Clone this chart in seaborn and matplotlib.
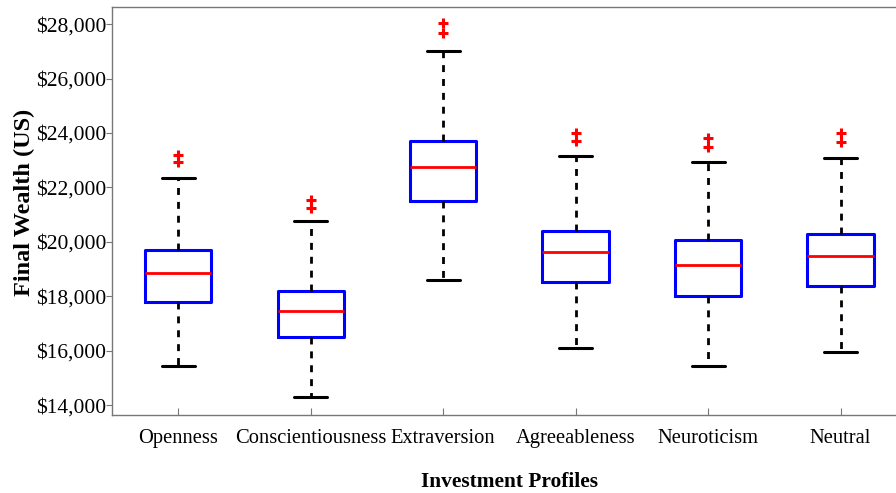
import pandas as pd
import matplotlib.pyplot as plt
import matplotlib.ticker as mticker
import seaborn as sns

# Box statistics (US$)
profiles = ['Openness', 'Conscientiousness', 'Extraversion',
            'Agreeableness', 'Neuroticism', 'Neutral']
lower_whisker = [15430, 14290, 18590, 16090, 15430, 15950]
q1 = [17790, 16500, 21490, 18520, 18000, 18370]
median = [18850, 17450, 22740, 19620, 19140, 19470]
q3 = [19690, 18190, 23700, 20390, 20060, 20280]
upper_whisker = [22340, 20760, 27010, 23150, 22930, 23080]
outliers = [[22940, 23190], [21240, 21530], [27670, 28040],
            [23700, 23990], [23480, 23810], [23660, 23990]]

# one row per box statistic, whiskers go to min / max
rows = []
for i, p in enumerate(profiles):
    for v in (lower_whisker[i], q1[i], median[i], q3[i], upper_whisker[i]):
        rows.append({'profile': p, 'wealth': v})
box_df = pd.DataFrame(rows)

out_rows = []
for p, vals in zip(profiles, outliers):
    for v in vals:
        out_rows.append({'profile': p, 'wealth': v})
out_df = pd.DataFrame(out_rows)

sns.set_style('ticks')
plt.rcParams['font.family'] = ['Liberation Serif', 'DejaVu Serif']
plt.rcParams['text.color'] = 'black'
plt.rcParams['axes.labelcolor'] = 'black'
plt.rcParams['xtick.labelcolor'] = 'black'
plt.rcParams['ytick.labelcolor'] = 'black'

fig = plt.figure(figsize=(8.96, 4.93), dpi=100)
ax = fig.add_axes([0.125, 0.158, 0.887, 0.8276])

sns.boxplot(data=box_df, x='profile', y='wealth', order=profiles,
            whis=(0, 100), width=0.5, fill=False, showfliers=False,
            boxprops=dict(color='blue', linewidth=2.2),
            medianprops=dict(color='red', linewidth=2),
            whiskerprops=dict(color='black', linewidth=2, linestyle=(0, (2.5, 2.5))),
            capprops=dict(color='black', linewidth=2.2),
            ax=ax)

sns.stripplot(data=out_df, x='profile', y='wealth', order=profiles,
              jitter=False, marker='+', color='red', size=7, linewidth=2.2,
              ax=ax)

ax.set_xlim(-0.5, 5.5)
ax.set_ylim(13633, 28625)
ax.set_yticks(range(14000, 28001, 2000))
ax.yaxis.set_major_formatter(mticker.FuncFormatter(lambda v, pos: rf'\${v:,.0f}'))

ax.set_xlabel('Investment Profiles', fontsize=15.4, fontweight='bold', labelpad=17)
ax.set_ylabel('Final Wealth (US)', fontsize=17.5, fontweight='bold')
ax.yaxis.set_label_coords(-0.097, 0.522)
ax.tick_params(axis='y', direction='out', length=4, labelsize=15.5, color='#777777', pad=0)
ax.tick_params(axis='x', direction='in', length=5, labelsize=14.8, color='#777777', pad=10)

for side in ['left', 'bottom', 'top', 'right']:
    ax.spines[side].set_visible(True)
    ax.spines[side].set_color('#777777')
    ax.spines[side].set_linewidth(1)

fig.savefig('out.png', dpi=100)
